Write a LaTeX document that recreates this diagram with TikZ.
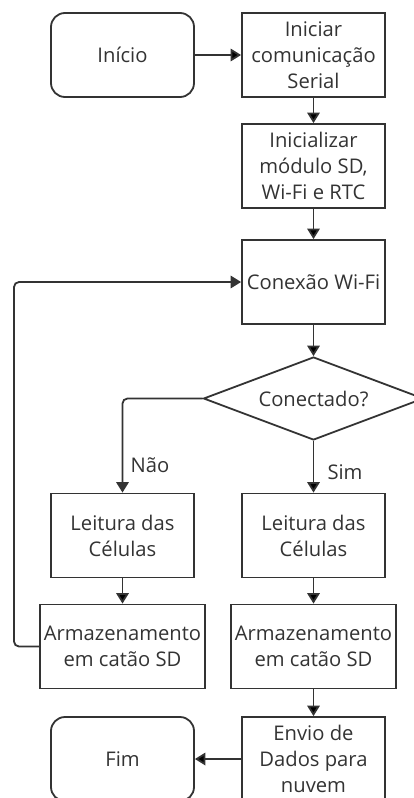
\documentclass[tikz,border=0pt]{standalone}
\usepackage{fontspec}
\setmainfont{Open Sans}
\usepackage{tikz}
\usetikzlibrary{arrows.meta,shapes.geometric}
\definecolor{linegray}{HTML}{333333}
\tikzstyle{box}=[rectangle, draw=linegray, line width=1.8pt, minimum width=143pt, minimum height=84pt, align=center, inner sep=2pt]
\tikzstyle{widebox}=[box, minimum width=165pt]
\tikzstyle{terminal}=[box, rounded corners=14pt]
\tikzstyle{decision}=[diamond, draw=linegray, line width=1.8pt, minimum width=220pt, minimum height=83pt, aspect=2.6, inner sep=1pt]
\tikzstyle{arrow}=[draw=linegray, line width=1.8pt, -{Triangle[length=10.5pt,width=12.5pt]}]

\begin{document}
\begin{tikzpicture}[x=1pt, y=-1pt, font=\fontsize{20.2}{26}\selectfont, text=linegray]
		   \path[use as bounding box, clip] (0,0) rectangle (414,798);
		   \begin{scope}
			   \node (inicio) at (122.5, 55)[terminal] {Início};
			   \node (serial) at (313.5, 55)[box] {Iniciar\\comunicação\\Serial};
			   \node (init) at (313.5, 166)[box] {Inicializar\\módulo SD,\\Wi-Fi e RTC};
			   \node (wifi) at (313.5, 282)[box] {Conexão Wi-Fi};
			   \node (dec) at (313.5, 398.5)[decision] {Conectado?};

			   \node (leit1) at (122.5, 535.5)[box] {Leitura das\\Células};
			   \node (leit2) at (313.5, 535.5)[box] {Leitura das\\Células};
			   \node (arm1) at (122.5, 646.5)[widebox] {Armazenamento\\em catão SD};
			   \node (arm2) at (313.5, 646.5)[widebox] {Armazenamento\\em catão SD};

			   \node (envio) at (313.5, 759)[box] {Envio de\\Dados para\\nuvem};
			   \node (fim) at (122.5, 759)[terminal] {Fim};

			   \node (nao) at (150, 465) {Não};
			   \node (sim) at (345, 472) {Sim};

			   \coordinate (loop) at (14, 646.5);
		   \end{scope}
		   \begin{scope}
			   \path [arrow] (inicio) edge (serial);
			   \path [arrow] (serial) edge (init);
			   \path [arrow] (init) edge (wifi);
			   \path [arrow] (wifi) edge (dec);
			   \path [arrow] (dec) edge (leit2);
			   \draw [arrow, rounded corners=5pt] (dec.west) -| (leit1.north);

			   \path [arrow] (leit1) edge (arm1);
			   \path [arrow] (leit2) edge (arm2);
			   \path [arrow] (arm2) edge (envio);
			   \path [arrow] (envio) edge (fim);

			   \draw [arrow, rounded corners=5pt] (arm1.west) -- (loop) |- (wifi.west);
		   \end{scope}
	   \end{tikzpicture}
\end{document}
